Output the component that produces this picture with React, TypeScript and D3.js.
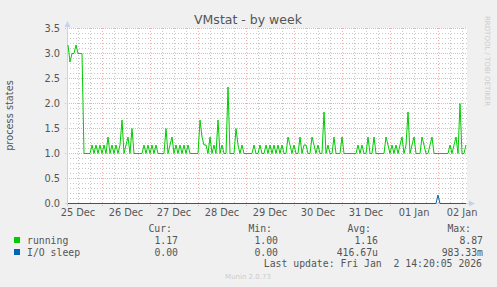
import React from "react";
import * as d3 from "d3";

const running: number[] = [
  3.17, 2.83, 3.0, 3.0, 3.17, 3.0, 3.0, 3.0, 1.0, 1.0,
  1.0, 1.0, 1.17, 1.0, 1.17, 1.0, 1.17, 1.0, 1.17, 1.0,
  1.33, 1.0, 1.17, 1.0, 1.17, 1.0, 1.17, 1.67, 1.0, 1.17,
  1.33, 1.0, 1.5, 1.0, 1.0, 1.0, 1.0, 1.0, 1.17, 1.0,
  1.17, 1.0, 1.17, 1.0, 1.17, 1.0, 1.0, 1.0, 1.0, 1.5,
  1.0, 1.17, 1.33, 1.0, 1.17, 1.0, 1.17, 1.0, 1.17, 1.0,
  1.17, 1.0, 1.0, 1.0, 1.0, 1.0, 1.67, 1.33, 1.17, 1.17,
  1.0, 1.33, 1.0, 1.17, 1.0, 1.67, 1.0, 1.17, 1.0, 1.0,
  2.33, 1.0, 1.0, 1.0, 1.5, 1.17, 1.0, 1.17, 1.0, 1.0,
  1.0, 1.0, 1.0, 1.17, 1.0, 1.0, 1.17, 1.0, 1.0, 1.17,
  1.0, 1.17, 1.0, 1.17, 1.0, 1.17, 1.0, 1.17, 1.0, 1.0,
  1.33, 1.17, 1.0, 1.17, 1.0, 1.0, 1.33, 1.0, 1.17, 1.17,
  1.0, 1.0, 1.33, 1.17, 1.0, 1.17, 1.0, 1.0, 1.83, 1.0,
  1.17, 1.0, 1.0, 1.33, 1.0, 1.0, 1.0, 1.33, 1.0, 1.0,
  1.0, 1.0, 1.0, 1.0, 1.0, 1.17, 1.0, 1.17, 1.0, 1.0,
  1.33, 1.0, 1.0, 1.33, 1.0, 1.0, 1.0, 1.0, 1.0, 1.33,
  1.17, 1.0, 1.17, 1.0, 1.17, 1.0, 1.17, 1.33, 1.0, 1.17,
  1.83, 1.0, 1.17, 1.33, 1.0, 1.0, 1.0, 1.33, 1.17, 1.0,
  1.0, 1.17, 1.33, 1.0, 1.0, 1.0, 1.0, 1.0, 1.0, 1.0,
  1.0, 1.17, 1.0, 1.17, 1.33, 1.0, 2.0, 1.0, 1.0, 1.17,
];

const ioSleepSpikeIndex = 185;
const ioSleep: number[] = running.map((_, i) => (i === ioSleepSpikeIndex ? 0.17 : 0));

const seriesNames = ["running", "I/O sleep"];
const seriesColors = ["#00CC00", "#0066B3"];
const curValues = ["1.17", "0.00"];
const minValues = ["1.00", "0.00"];
const avgValues = ["1.16", "416.67u"];
const maxValues = ["8.87", "983.33m"];
const yTickValues = [0, 0.5, 1.0, 1.5, 2.0, 2.5, 3.0, 3.5];

const dataStart = Date.UTC(2025, 11, 25, 7, 0);
const HOUR = 3600 * 1000;
const domainStart = new Date(Date.UTC(2025, 11, 25, 6, 30));
const domainEnd = new Date(Date.UTC(2026, 0, 2, 14, 30));

const W = 497;
const H = 287;
const L = 67;
const R = 467;
const T = 28;
const B = 203;

export default function App() {
  const x = d3.scaleUtc().domain([domainStart, domainEnd]).range([L, R]);
  const y = d3.scaleLinear().domain([0, 3.5]).range([B, T]);

  const mk = (arr: number[]) => arr.map((v, i) => ({ t: new Date(dataStart + i * HOUR), v }));
  const line = d3
    .line<{ t: Date; v: number }>()
    .x((d) => x(d.t))
    .y((d) => y(d.v) + 0.5);

  const minorY = d3.range(0, 36).map((k) => k / 10).filter((v) => Math.abs(v * 2 - Math.round(v * 2)) > 1e-6);
  const minorX = d3.utcHour.every(6)!.range(domainStart, domainEnd).filter((d) => d.getUTCHours() !== 0);
  const majorX = d3.utcDay.range(domainStart, domainEnd);
  const labelDays = d3.utcDay.range(d3.utcDay.floor(domainStart), domainEnd).map((d) => new Date(+d + 12 * HOUR));
  const fmt = d3.utcFormat("%d %b");

  const mono = "'DejaVu Sans Mono', monospace";
  const sans = "'DejaVu Sans', sans-serif";
  const fs = 9.8;
  const textCol = "#555";
  const minorCol = "#C8C8C8";
  const majorCol = "#F2B0B0";

  return (
    <svg width={W} height={H} style={{ position: "absolute", left: 0, top: 0, display: "block" }}>
      <rect x={0} y={0} width={W} height={H} fill="#F0F0F0" />
      <rect x={L} y={T} width={R - L} height={B - T} fill="#FFFFFF" />
      {/* minor grid */}
      {minorY.map((v) => (
        <line key={"my" + v} x1={L} x2={R} y1={Math.round(y(v)) + 0.5} y2={Math.round(y(v)) + 0.5} stroke={minorCol} strokeDasharray="1,2" />
      ))}
      {minorX.map((d) => (
        <line key={"mx" + +d} x1={Math.round(x(d)) + 0.5} x2={Math.round(x(d)) + 0.5} y1={T} y2={B + 2} stroke={minorCol} strokeDasharray="1,2" />
      ))}
      {/* major grid */}
      {yTickValues.map((v) => (
        <line key={"My" + v} x1={L - 2} x2={R} y1={Math.round(y(v)) + 0.5} y2={Math.round(y(v)) + 0.5} stroke={majorCol} strokeDasharray="1,1" />
      ))}
      {majorX.map((d) => (
        <line key={"Mx" + +d} x1={Math.round(x(d)) + 0.5} x2={Math.round(x(d)) + 0.5} y1={T} y2={B + 3} stroke={majorCol} strokeDasharray="1,2" />
      ))}
      {/* axes */}
      <line x1={L + 0.5} x2={L + 0.5} y1={T - 4} y2={B + 3} stroke="#C8D0F0" />
      <line x1={L - 2} x2={R + 4} y1={B + 0.5} y2={B + 0.5} stroke="#C8D0F0" />
      <path d={`M${L - 2.5},${T - 1} L${L + 0.5},${T - 7} L${L + 3.5},${T - 1} Z`} fill="#C8D0F0" />
      <path d={`M${R + 2},${B - 2.5} L${R + 8},${B + 0.5} L${R + 2},${B + 3.5} Z`} fill="#C8D0F0" />
      {/* y tick labels */}
      {yTickValues.map((v) => (
        <text key={"yl" + v} x={L - 7} y={y(v) + 3.5} textAnchor="end" fontFamily={sans} fontSize={fs} fill={textCol}>
          {v.toFixed(1)}
        </text>
      ))}
      {/* x tick labels */}
      {labelDays.map((d) => (
        <text key={"xl" + +d} x={x(d)} y={216} textAnchor="middle" fontFamily={sans} fontSize={fs} fill={textCol}>
          {fmt(d)}
        </text>
      ))}
      {/* series */}
      <path d={line(mk(running)) || ""} fill="none" stroke={seriesColors[0]} strokeWidth={1} />
      <path d={line(mk(ioSleep)) || ""} fill="none" stroke={seriesColors[1]} strokeWidth={1} />
      {/* title */}
      <text x={248} y={24} textAnchor="middle" fontFamily={sans} fontSize={12.5} fill={textCol}>
        VMstat - by week
      </text>
      {/* y axis title */}
      <text transform={`translate(13,${(T + B) / 2}) rotate(-90)`} textAnchor="middle" fontFamily={sans} fontSize={fs} fill={textCol}>
        process states
      </text>
      {/* watermark */}
      <text transform={`translate(485,16) rotate(90)`} fontFamily={sans} fontSize={7} fill="#CCCCCC">
        RRDTOOL / TOBI OETIKER
      </text>
      {/* legend header */}
      <text x={172} y={232} textAnchor="end" fontFamily={mono} fontSize={fs} fill={textCol}>Cur:</text>
      <text x={272} y={232} textAnchor="end" fontFamily={mono} fontSize={fs} fill={textCol}>Min:</text>
      <text x={371} y={232} textAnchor="end" fontFamily={mono} fontSize={fs} fill={textCol}>Avg:</text>
      <text x={471} y={232} textAnchor="end" fontFamily={mono} fontSize={fs} fill={textCol}>Max:</text>
      {seriesNames.map((name, i) => {
        const yy = 244 + i * 12;
        return (
          <g key={name}>
            <rect x={14} y={yy - 7} width={6} height={6} fill={seriesColors[i]} />
            <text x={27} y={yy} fontFamily={mono} fontSize={fs} fill={textCol}>{name}</text>
            <text x={178} y={yy} textAnchor="end" fontFamily={mono} fontSize={fs} fill={textCol}>{curValues[i]}</text>
            <text x={278} y={yy} textAnchor="end" fontFamily={mono} fontSize={fs} fill={textCol}>{minValues[i]}</text>
            <text x={378} y={yy} textAnchor="end" fontFamily={mono} fontSize={fs} fill={textCol}>{avgValues[i]}</text>
            <text x={483} y={yy} textAnchor="end" fontFamily={mono} fontSize={fs} fill={textCol}>{maxValues[i]}</text>
          </g>
        );
      })}
      <text x={482} y={267} textAnchor="end" fontFamily={mono} fontSize={fs} fill={textCol} style={{ whiteSpace: "pre" }}>
        {"Last update: Fri Jan  2 14:20:05 2026"}
      </text>
      <text x={248} y={279} textAnchor="middle" fontFamily={sans} fontSize={7} fill="#CCCCCC">
        Munin 2.0.73
      </text>
    </svg>
  );
}
